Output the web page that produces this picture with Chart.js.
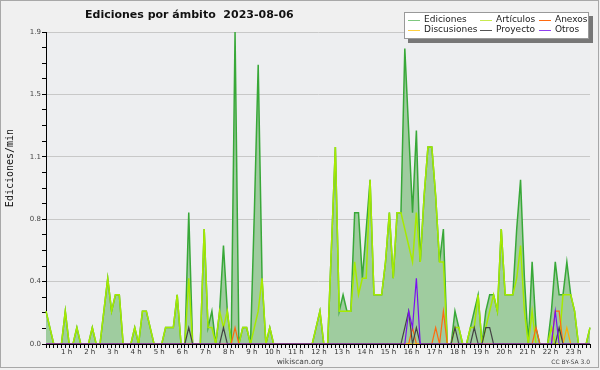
<!DOCTYPE html>
<html>
<head>
<meta charset="utf-8">
<script src="https://cdn.jsdelivr.net/npm/chart.js@4.4.0/dist/chart.umd.min.js"></script>
<style>
  html, body { margin: 0; padding: 0; background: #f0f0f0; }
  canvas { display: block; }
</style>
</head>
<body>
<canvas id="chart" width="600" height="370"></canvas>
<script>
// values are edits per minute, one point every 10 minutes (00:00 -> 23:30)
const hourLabels = ['', '1 h', '2 h', '3 h', '4 h', '5 h', '6 h', '7 h', '8 h', '9 h', '10 h', '11 h',
    '12 h', '13 h', '14 h', '15 h', '16 h', '17 h', '18 h', '19 h', '20 h', '21 h', '22 h', '23 h'];
const yTickLabels = ['0.0', '0.4', '0.8', '1.1', '1.5', '1.9'];
const yMax = 1.9;

const ediciones = [
    0.2,0.1,0,0,0,0.2,   0,0,0.1,0,0,0,       0.1,0,0,0.2,0.4,0.2,   0.3,0.3,0,0,0,0.1,
    0,0.2,0.2,0.1,0,0,   0,0.1,0.1,0.1,0.3,0, 0,0.8,0,0,0,0.7,       0.1,0.2,0,0.2,0.6,0.2,
    0,1.9,0,0.1,0.1,0,   0.8,1.7,0.4,0,0.1,0, 0,0,0,0,0,0,           0,0,0,0,0.1,0.2,
    0,0,0.6,1.2,0.2,0.3, 0.2,0.2,0.8,0.8,0.4,0.7, 1.0,0.3,0.3,0.3,0.5,0.8, 0.4,0.8,0.8,1.8,1.3,0.8,
    1.3,0.5,0.9,1.2,1.2,0.9, 0.5,0.7,0,0,0.2,0.1, 0,0,0.1,0.2,0.3,0, 0.2,0.3,0.3,0.2,0.7,0.3,
    0.3,0.3,0.7,1.0,0.4,0, 0.5,0.1,0,0,0,0.2, 0.5,0.3,0.3,0.5,0.3,0.2, 0,0,0,0.1
];
const articulos = [
    0.2,0.1,0,0,0,0.2,   0,0,0.1,0,0,0,       0.1,0,0,0.2,0.4,0.2,   0.3,0.3,0,0,0,0.1,
    0,0.2,0.2,0.1,0,0,   0,0.1,0.1,0.1,0.3,0, 0,0.4,0,0,0,0.7,       0.1,0.1,0,0.2,0.1,0.2,
    0,0,0,0.1,0.1,0,     0.1,0.2,0.4,0,0.1,0, 0,0,0,0,0,0,           0,0,0,0,0.1,0.2,
    0,0,0.6,1.2,0.2,0.2, 0.2,0.2,0.5,0.3,0.4,0.4, 1.0,0.3,0.3,0.3,0.5,0.8, 0.4,0.8,0.8,0.7,0.6,0.5,
    0.8,0.5,0.9,1.2,1.2,0.9, 0.5,0.5,0,0,0.1,0.1, 0,0,0.1,0.1,0.3,0, 0.1,0.2,0.3,0.2,0.7,0.3,
    0.3,0.3,0.4,0.6,0.2,0, 0.2,0,0,0,0,0.1, 0,0,0.3,0.3,0.3,0.2, 0,0,0,0.1
];
const anexos = [
    0,0,0,0,0,0, 0,0,0,0,0,0, 0,0,0,0,0,0, 0,0,0,0,0,0,
    0,0,0,0,0,0, 0,0,0,0,0,0, 0,0,0,0,0,0, 0,0,0,0,0,0,
    0,0.1,0,0,0,0, 0,0,0,0,0,0, 0,0,0,0,0,0, 0,0,0,0,0,0,
    0,0,0,0,0,0, 0,0,0,0,0,0, 0,0,0,0,0,0, 0,0,0,0,0,0.1,
    0,0,0,0,0,0.1, 0,0.2,0,0,0,0, 0,0,0,0,0,0, 0,0,0,0,0,0,
    0,0,0,0,0,0, 0,0.1,0,0,0,0, 0.2,0.2,0,0,0,0, 0,0,0,0
];
const discusiones = [
    0,0,0,0,0,0, 0,0,0,0,0,0, 0,0,0,0,0,0, 0,0,0,0,0,0,
    0,0,0,0,0,0, 0,0,0,0,0,0, 0,0,0,0,0,0, 0,0,0,0,0,0,
    0,0,0,0,0,0, 0,0,0,0,0,0, 0,0,0,0,0,0, 0,0,0,0,0,0,
    0,0,0,0,0,0, 0,0,0,0,0,0, 0,0,0,0,0,0, 0,0,0,0,0,0,
    0,0,0,0,0,0, 0,0,0,0,0,0, 0,0,0,0,0,0, 0,0,0,0,0,0,
    0,0,0,0,0,0, 0,0,0,0,0,0, 0,0,0,0.1,0,0, 0,0,0,0
];
const proyecto = [
    0,0,0,0,0,0, 0,0,0,0,0,0, 0,0,0,0,0,0, 0,0,0,0,0,0,
    0,0,0,0,0,0, 0,0,0,0,0,0, 0,0.1,0,0,0,0, 0,0,0,0,0.1,0,
    0,0,0,0,0,0, 0,0,0,0,0,0, 0,0,0,0,0,0, 0,0,0,0,0,0,
    0,0,0,0,0,0, 0,0,0,0,0,0, 0,0,0,0,0,0, 0,0,0,0.1,0.2,0,
    0.1,0,0,0,0,0, 0,0,0,0,0.1,0, 0,0,0,0.1,0,0, 0.1,0.1,0,0,0,0,
    0,0,0,0,0,0, 0,0,0,0,0,0, 0,0.1,0,0,0,0, 0,0,0,0
];
const otros = [
    0,0,0,0,0,0, 0,0,0,0,0,0, 0,0,0,0,0,0, 0,0,0,0,0,0,
    0,0,0,0,0,0, 0,0,0,0,0,0, 0,0,0,0,0,0, 0,0,0,0,0,0,
    0,0,0,0,0,0, 0,0,0,0,0,0, 0,0,0,0,0,0, 0,0,0,0,0,0,
    0,0,0,0,0,0, 0,0,0,0,0,0, 0,0,0,0,0,0, 0,0,0,0,0.2,0.1,
    0.4,0,0,0,0,0, 0,0,0,0,0,0, 0,0,0,0,0,0, 0,0,0,0,0,0,
    0,0,0,0,0,0, 0,0,0,0,0,0, 0.2,0,0,0,0,0, 0,0,0,0
];

// category labels, one per 10 min slot
const slots = ediciones.map((v, i) => {
    const h = Math.floor(i / 6), m = (i % 6) * 10;
    return String(h).padStart(2, '0') + ':' + String(m).padStart(2, '0');
});

function serie(label, data, color, width, order, extra) {
    return Object.assign({
        label: label,
        data: data,
        borderColor: color,
        borderWidth: width,
        pointRadius: 0,
        tension: 0,
        fill: false,
        order: order
    }, extra || {});
}

// background, texts and the boxed legend
const decor = {
    id: 'decor',
    beforeDraw(chart) {
        const ctx = chart.ctx, a = chart.chartArea;
        ctx.save();
        ctx.fillStyle = '#f0f0f0';
        ctx.fillRect(0, 0, chart.width, chart.height);
        ctx.fillStyle = '#edeef0';
        ctx.fillRect(a.left, a.top, a.right - a.left, a.bottom - a.top);
        ctx.restore();
    },
    afterDraw(chart) {
        const ctx = chart.ctx;
        ctx.save();

        // title
        ctx.fillStyle = '#111';
        ctx.font = 'bold 11px "DejaVu Sans"';
        ctx.textBaseline = 'alphabetic';
        ctx.textAlign = 'left';
        ctx.fillText('Ediciones por ámbito  2023-08-06', 85, 18);

        // y axis title
        ctx.save();
        ctx.translate(13, 168);
        ctx.rotate(-Math.PI / 2);
        ctx.font = '10px "DejaVu Sans Mono"';
        ctx.textAlign = 'center';
        ctx.fillStyle = '#111';
        ctx.fillText('Ediciones/min', 0, 0);
        ctx.restore();

        // footer
        ctx.fillStyle = '#444';
        ctx.font = '7.5px "DejaVu Sans"';
        ctx.textAlign = 'center';
        ctx.fillText('wikiscan.org', 300, 364);
        ctx.font = '6px "DejaVu Sans"';
        ctx.textAlign = 'right';
        ctx.fillText('CC BY-SA 3.0', 590, 364);

        // legend box with shadow
        ctx.fillStyle = '#777';
        ctx.fillRect(408, 16, 185, 27);
        ctx.fillStyle = '#fff';
        ctx.fillRect(404, 12, 185, 27);
        ctx.strokeStyle = '#999';
        ctx.lineWidth = 1;
        ctx.strokeRect(404.5, 12.5, 184, 26);

        const cols = [408, 480, 539];
        const rows = [20, 30];
        ctx.font = '9px "DejaVu Sans"';
        ctx.textAlign = 'left';
        ctx.textBaseline = 'middle';
        chart.data.datasets.forEach((ds, i) => {
            const x = cols[i % 3], y = rows[Math.floor(i / 3)];
            ctx.strokeStyle = ds.legendColor || ds.borderColor;
            ctx.beginPath();
            ctx.moveTo(x, y + 0.5);
            ctx.lineTo(x + 12, y + 0.5);
            ctx.stroke();
            ctx.fillStyle = '#222';
            ctx.fillText(ds.label, x + 16, y);
        });

        // outer frame
        ctx.strokeStyle = '#a8a8a8';
        ctx.strokeRect(0.5, 0.5, chart.width - 2, chart.height - 3);
        ctx.restore();
    }
};

const ctx = document.getElementById('chart').getContext('2d');
new Chart(ctx, {
    type: 'line',
    data: {
        labels: slots,
        datasets: [
            serie('Ediciones', ediciones, '#38a838', 1.5, 6, { fill: 'origin', backgroundColor: '#9fcc9f', legendColor: '#7fc87f' }),
            serie('Artículos', articulos, '#a6ea00', 1.5, 5, { legendColor: '#c8ea50' }),
            serie('Anexos', anexos, '#ff6a10', 1.2, 4),
            serie('Discusiones', discusiones, '#ffb000', 1.2, 3, { legendColor: '#ffd040' }),
            serie('Proyecto', proyecto, '#444444', 1.2, 2, { legendColor: '#555' }),
            serie('Otros', otros, '#7a10f0', 1.2, 1, { legendColor: '#9040f0' })
        ]
    },
    options: {
        responsive: false,
        animation: false,
        devicePixelRatio: 1,
        layout: { padding: { top: 32, right: 10, left: 0, bottom: 0 } },
        plugins: {
            legend: { display: false },
            tooltip: { enabled: false },
            title: { display: false }
        },
        scales: {
            x: {
                type: 'category',
                z: 1,
                afterFit: scale => { scale.height = 26; },
                grid: { drawOnChartArea: false, tickLength: 4, color: '#000', tickColor: '#000' },
                border: { color: '#000', width: 1 },
                ticks: {
                    autoSkip: false,
                    maxRotation: 0,
                    minRotation: 0,
                    align: 'end',
                    labelOffset: 3,
                    padding: 0,
                    color: '#333',
                    font: { family: 'DejaVu Sans', size: 7 },
                    callback: (val, i) => (i % 6 === 0 ? hourLabels[i / 6] : '')
                }
            },
            y: {
                min: 0,
                max: yMax,
                afterFit: scale => { scale.width = 46; },
                afterBuildTicks: scale => {
                    scale.ticks = [];
                    for (let k = 0; k <= 20; k++) scale.ticks.push({ value: yMax * k / 20 });
                },
                grid: {
                    tickLength: 4,
                    tickColor: '#000',
                    color: c => (c.index % 4 === 0 && c.index > 0 ? '#c8c8c8' : 'rgba(0,0,0,0)')
                },
                border: { color: '#000', width: 1 },
                ticks: {
                    padding: 1,
                    color: '#444',
                    font: { family: 'DejaVu Sans', size: 7 },
                    callback: (val, i) => (i % 4 === 0 ? yTickLabels[i / 4] : '')
                }
            }
        }
    },
    plugins: [decor]
});
</script>
</body>
</html>
